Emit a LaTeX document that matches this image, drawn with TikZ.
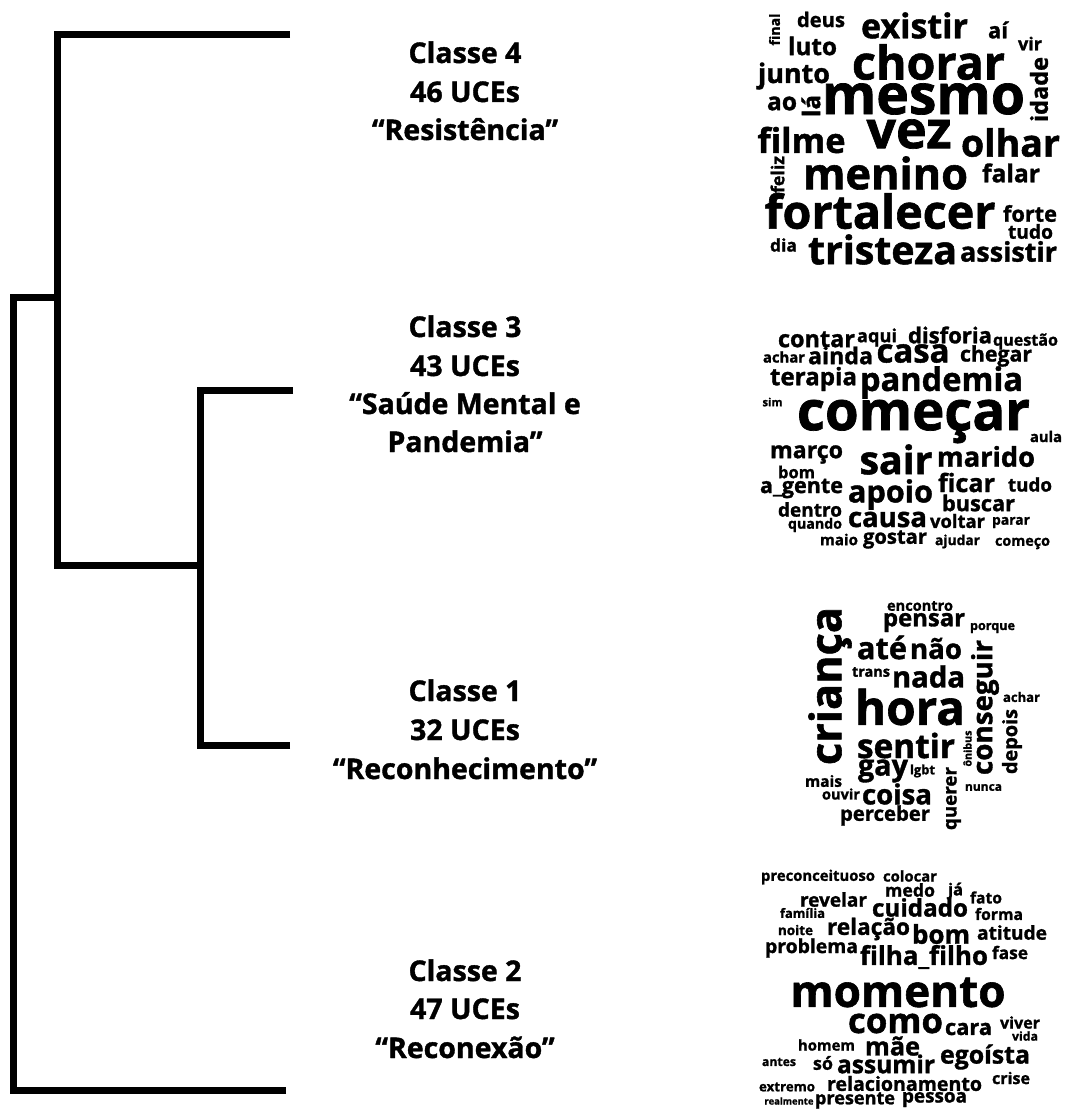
\documentclass[tikz,border=0pt]{standalone}
\usepackage{fontspec}
\usepackage{graphicx}
\newfontfamily\cloudfont{Open Sans}[BoldFeatures={FakeBold=1.3}]
% a cloud word scaled to a given width
\newcommand\cloudword[2]{\resizebox{#1pt}{!}{#2}}
\begin{document}
\begin{tikzpicture}[x=1pt,y=-1pt,
  branch/.style={line width=7pt,line join=miter,line cap=butt},
  lbl/.style={inner sep=0pt,anchor=base,font=\cloudfont\bfseries\fontsize{28.5}{34}\selectfont},
  cw/.style={inner sep=0pt,outer sep=0pt,font=\cloudfont\bfseries}]
\useasboundingbox (0,0) rectangle (1067,1115);

% dendrogram: leaf ends and junctions
\coordinate (leaf4) at (290,35);
\coordinate (leaf3) at (293,390);
\coordinate (leaf1) at (290,745);
\coordinate (leaf2) at (286,1090);
\coordinate (k1) at (57,565);
\coordinate (k2) at (200,565);
\coordinate (k0) at (57,297);
\coordinate (root) at (13,297);

\draw[branch] (leaf4) -| (k1) -- (k2);
\draw[branch] (leaf3) -| (k2);
\draw[branch] (leaf1) -| (k2);
\draw[branch] (leaf2) -| (root) -- (k0);

% class labels
\node[lbl] (c4a) at (465,63) {Classe 4};
\node[lbl] (c4b) at (465,102) {46 UCEs};
\node[lbl] (c4c) at (465,140) {“Resistência”};
\node[lbl] (c3a) at (465,337) {Classe 3};
\node[lbl] (c3b) at (465,376) {43 UCEs};
\node[lbl] (c3c) at (465,414) {“Saúde Mental e};
\node[lbl] (c3d) at (465,452) {Pandemia”};
\node[lbl] (c1a) at (465,701) {Classe 1};
\node[lbl] (c1b) at (465,740) {32 UCEs};
\node[lbl] (c1c) at (465,779) {“Reconhecimento”};
\node[lbl] (c2a) at (465,981) {Classe 2};
\node[lbl] (c2b) at (465,1019) {47 UCEs};
\node[lbl] (c2c) at (465,1058) {“Reconexão”};

% word cloud, class 4
\foreach \x/\y/\len/\r/\t [count=\i] in {
 774.5/29.5/32/90/final, 821/19.5/48/0/deus, 914.5/25.5/107/0/existir,
 998/30/20/0/aí, 1030/43.5/24/0/vir, 812.5/46/49/0/luto,
 928.5/62/153/0/chorar, 794/76/72/0/junto, 1039/89.5/65/90/idade,
 782/103.5/30/0/ao, 811/106/22/90/lá, 923.5/99/203/0/mesmo,
 801.5/140/88/0/filme, 909/134/85/0/vez, 1010.5/142.5/99/0/olhar,
 777.5/174.5/37/90/feliz, 885.5/173/165/0/menino, 1011/173/58/0/falar,
 880/211/231/0/fortalecer, 1030/213.5/54/0/forte, 1030.5/231.5/45/0/tudo,
 783.5/245/27/0/dia, 882.5/249.5/149/0/tristeza, 1008.5/251.5/97/0/assistir}
 \node[cw,rotate=\r] (wa\i) at (\x,\y) {\cloudword{\len}{\t}};

% word cloud, class 3
\foreach \x/\y/\len/\r/\t [count=\i] in {
 816.5/339.5/77/0/contar, 877/337.5/40/0/aqui, 950/335/84/0/disforia,
 1025.5/341.5/65/0/questão, 784/357/42/0/achar, 840.5/355.5/65/0/ainda,
 913/353.5/73/0/casa, 996/356/72/0/chegar, 813.5/379/87/0/terapia,
 941.5/382.5/163/0/pandemia, 772.5/402/20/0/sim, 913.5/421.5/233/0/começar,
 1046/436.5/32/0/aula, 806.5/454.5/73/0/março, 896/459.5/73/0/sair,
 986/456.5/98/0/marido, 796.5/472/37/0/bom, 801.5/488.5/83/0/a\_gente,
 890.5/494.5/85/0/apoio, 966.5/482.5/57/0/ficar, 1030/484.5/44/0/tudo,
 978.5/503/73/0/buscar, 810/509.5/64/0/dentro, 815/525/54/0/quando,
 887.5/519.5/79/0/causa, 957.5/521/55/0/voltar, 1011/522.5/38/0/parar,
 839/539.5/38/0/maio, 895/539.5/64/0/gostar, 957.5/541.5/45/0/ajudar,
 1022.5/543.5/55/0/começo}
 \node[cw,rotate=\r] (wb\i) at (\x,\y) {\cloudword{\len}{\t}};

% word cloud, class 1
\foreach \x/\y/\len/\r/\t [count=\i] in {
 920/606/66/0/encontro, 924/622.5/82/0/pensar, 992.5/628/45/0/porque,
 830/686/158/90/criança, 882/647.5/50/0/até, 936/648.5/52/0/não,
 985/707.5/135/90/conseguir, 871/672/38/0/trans, 928.5/676.5/73/0/nada,
 910/707/110/0/hora, 1021.5/697/37/0/achar, 906/745.5/98/0/sentir,
 1012/741.5/65/90/depois, 967.5/748.5/36/90/ônibus, 823.5/781/37/0/mais,
 883/771/50/0/gay, 922.5/771/25/0/lgbt, 953.5/798.5/63/90/querer,
 983.5/787.5/37/0/nunca, 841/794/38/0/ouvir, 897/794/70/0/coisa,
 885/815.5/90/0/perceber}
 \node[cw,rotate=\r] (wc\i) at (\x,\y) {\cloudword{\len}{\t}};

% word cloud, class 2
\foreach \x/\y/\len/\r/\t [count=\i] in {
 818/877/114/0/preconceituoso, 910/876/54/0/colocar, 910/890/50/0/medo,
 955.5/891/15/0/já, 986/897.5/32/0/fato, 833.5/899.5/67/0/revelar,
 920/907.5/96/0/cuidado, 802.5/913/45/0/família, 999/914/48/0/forma,
 795.5/930/35/0/noite, 868.5/929/83/0/relação, 941/934/58/0/bom,
 1012/932.5/70/0/atitude, 811.5/948/93/0/problema, 924/957/128/0/filha\_filho,
 1010/952.5/36/0/fase, 898/992.5/215/0/momento, 895.5/1023.5/95/0/como,
 968.5/1029/47/0/cara, 1020/1022.5/40/0/viver, 1025/1036/26/0/vida,
 826.5/1045/57/0/homem, 892.5/1046/55/0/mãe, 985/1057/90/0/egoísta,
 779/1062/34/0/antes, 823/1063/20/0/só, 886/1064/98/0/assumir,
 1011/1078/38/0/crise, 787/1087/56/0/extremo, 904.5/1083.5/155/0/relacionamento,
 789/1101/49/0/realmente, 855/1100.5/80/0/presente, 934.5/1099.5/65/0/pessoa}
 \node[cw,rotate=\r] (wd\i) at (\x,\y) {\cloudword{\len}{\t}};
\end{tikzpicture}
\end{document}
